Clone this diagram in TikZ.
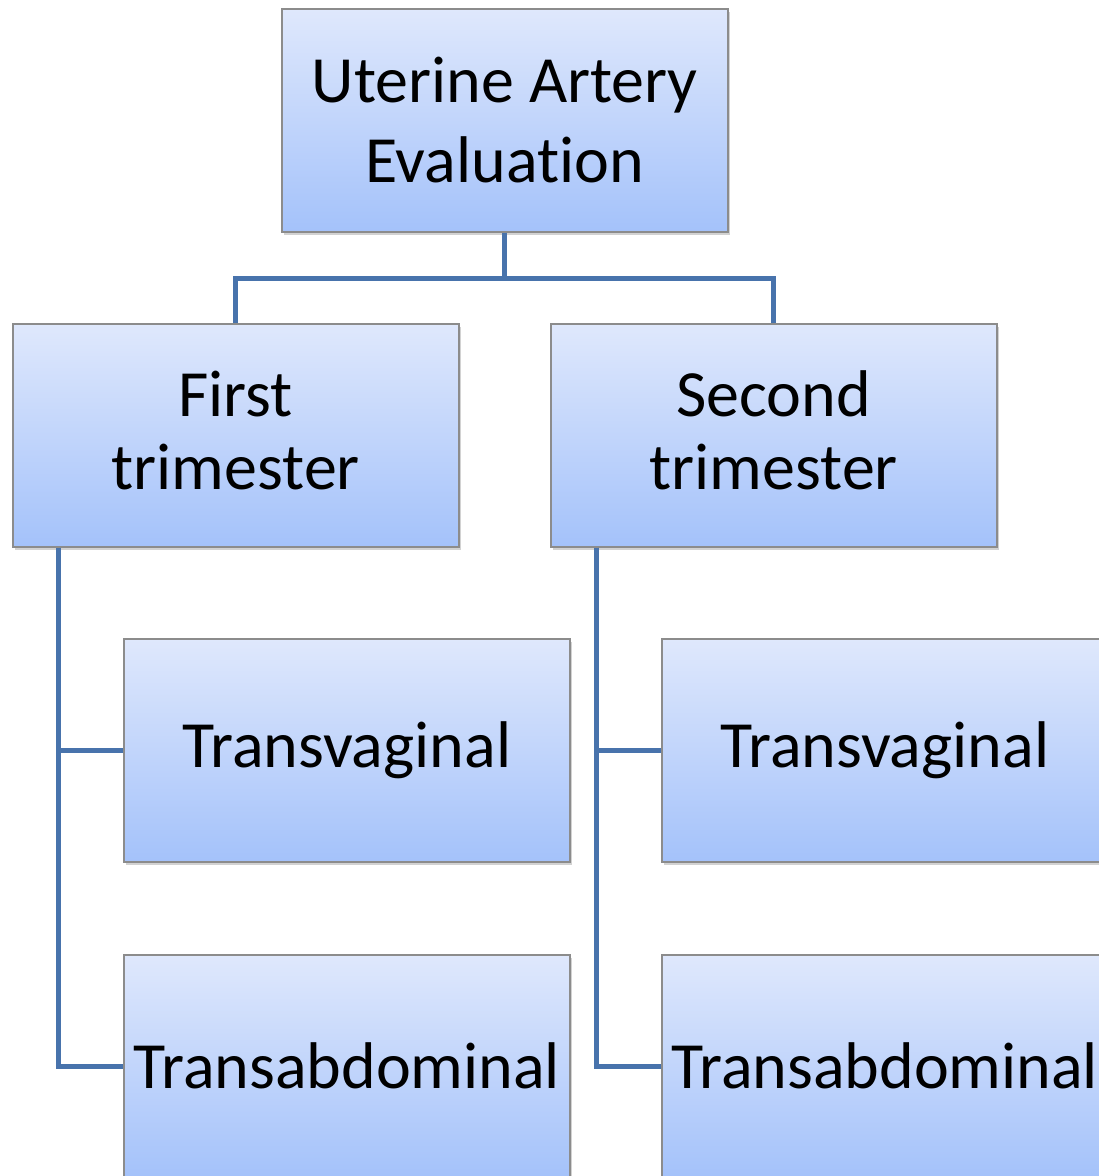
\documentclass[tikz,border=0pt]{standalone}
\usepackage{fontspec}
\setmainfont{Carlito}[Ligatures={NoCommon}]
\usetikzlibrary{shadows}
\definecolor{boxtop}{HTML}{DFE8FC}
\definecolor{boxbot}{HTML}{A4C2FA}
\definecolor{boxline}{HTML}{8C8C8C}
\definecolor{linkblue}{HTML}{4873AC}
\tikzset{
  evalbox/.style={draw=boxline,line width=1.5pt,top color=boxtop,bottom color=boxbot,
    minimum width=446pt,minimum height=223pt,inner sep=2pt,align=center,anchor=north west,
    font=\fontsize{66}{80}\selectfont,
    drop shadow={opacity=0.35,shadow xshift=2pt,shadow yshift=-3pt}},
  tribox/.style={evalbox,font=\fontsize{66}{73}\selectfont,text depth=10pt},
  link/.style={draw=linkblue,line width=5pt}
}
\begin{document}
\begin{tikzpicture}[x=1pt,y=-1pt]
\useasboundingbox (0,0) rectangle (1099,1176);
\clip (0,0) rectangle (1099,1176);
\fill[white] (0,0) rectangle (1099,1176);
% boxes
\node[evalbox] (root) at (281,8) {Uterine Artery\\Evalua\kern0pt tion};
\node[tribox] (first) at (12,323) {First\\trimester};
\node[tribox] (second) at (550,323) {Second\\trimester};
\node[evalbox] (tvA) at (123,638) {Transvaginal};
\node[evalbox] (taA) at (123,954) {Transabdominal};
\node[evalbox] (tvB) at (661,638) {Transvaginal};
\node[evalbox] (taB) at (661,954) {Transabdominal};
% connectors
\coordinate (fork) at ([yshift=-46pt]root.south);
\coordinate (spineA) at ([xshift=46pt]first.south west);
\coordinate (spineB) at ([xshift=46pt]second.south west);
\draw[link] (root.south) -- (fork);
\draw[link] (first.north) |- (fork) -| (second.north);
\draw[link] (spineA) |- (tvA.west);
\draw[link] (spineA) |- (taA.west);
\draw[link] (spineB) |- (tvB.west);
\draw[link] (spineB) |- (taB.west);
\end{tikzpicture}
\end{document}
